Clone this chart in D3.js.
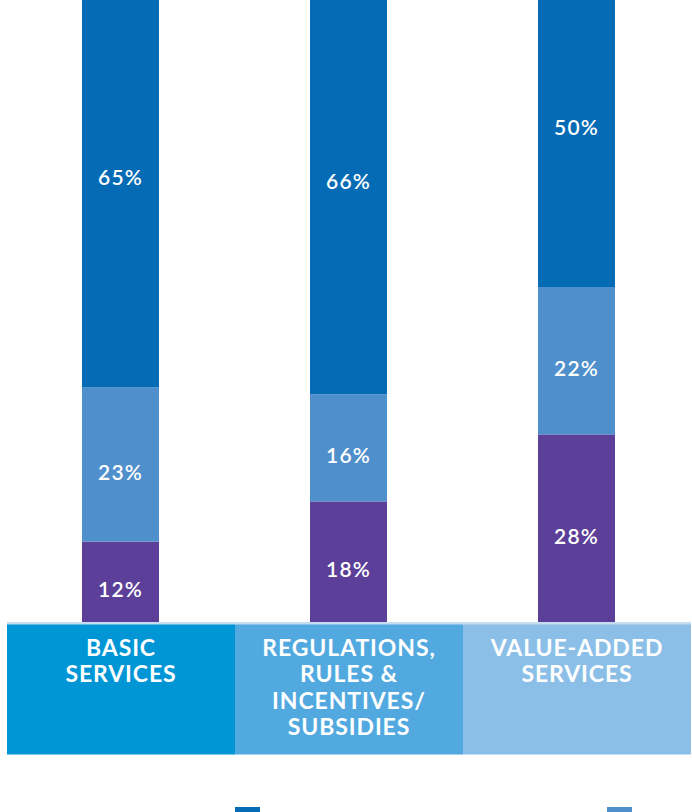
<!DOCTYPE html>
<html>
<head>
<meta charset="utf-8">
<script src="https://cdn.jsdelivr.net/npm/d3@7"></script>
<style>
  html, body { margin: 0; padding: 0; background: #fff; }
  svg { display: block; }
</style>
</head>
<body>
<svg id="chart" width="692" height="812"></svg>
<script>
"use strict"

// categories (each label split into lines)
var categories = ["basic", "regulations", "valueAdded"];
var categoryLines = [
    ["BASIC", "SERVICES"],
    ["REGULATIONS,", "RULES &", "INCENTIVES/", "SUBSIDIES"],
    ["VALUE-ADDED", "SERVICES"]
];

// series, stacked bottom -> top
var seriesNames = ["Series C", "Series B", "Series A"];
var seriesC = [12, 18, 28];   // purple, bottom
var seriesB = [23, 16, 22];   // mid blue
var seriesA = [65, 66, 50];   // dark blue, top

var seriesColors = ["#5b3f98", "#4f8fcb", "#056bb5"];
var bandColors = ["#0096d6", "#51a9df", "#8cbfe8"];

// legend order as drawn (dark blue first)
var legendOrder = [2, 1, 0];

var svg = d3.select("#chart");

var x = d3.scaleBand().domain(categories).range([7, 691]).padding(0);
var y = d3.scaleLinear().domain([0, 100]).range([622, -48]);

var BAR_W = 77;

var rows = categories.map(function(c, i){
    return {cat: c, C: seriesC[i], B: seriesB[i], A: seriesA[i]};
});
var stack = d3.stack().keys(["C", "B", "A"])(rows);

//bars
var layer = svg.selectAll("g.layer").data(stack).enter().append("g")
    .attr("class", "layer")
    .attr("fill", function(d, i){ return seriesColors[i]; });

layer.selectAll("rect").data(function(d){ return d; }).enter().append("rect")
    .attr("x", function(d){ return x(d.data.cat) + (x.bandwidth() - BAR_W) / 2 - 0.5; })
    .attr("width", BAR_W)
    .attr("y", function(d){ return y(d[1]); })
    .attr("height", function(d){ return y(d[0]) - y(d[1]); });

//value labels
layer.selectAll("text").data(function(d){ return d; }).enter().append("text")
    .attr("x", function(d){ return x(d.data.cat) + x.bandwidth() / 2 - 0.5; })
    .attr("y", function(d){ return (y(d[0]) + y(d[1])) / 2 + 7; })
    .attr("text-anchor", "middle")
    .attr("dominant-baseline", "central")
    .attr("fill", "#fff")
    .style("font-family", "Lato, sans-serif")
    .style("font-weight", "600")
    .style("font-size", "21px")
    .style("letter-spacing", "1.2px")
    .text(function(d){ return (d[1] - d[0]) + "%"; });

//category band
svg.append("rect")
    .attr("x", x.range()[0]).attr("y", y(0))
    .attr("width", x.range()[1] - x.range()[0]).attr("height", 3)
    .attr("fill", "#c6ddf1");

var band = svg.selectAll("g.cat").data(categories).enter().append("g").attr("class", "cat");

band.append("rect")
    .attr("x", function(d){ return x(d); })
    .attr("y", y(0) + 2.5)
    .attr("width", x.bandwidth())
    .attr("height", 130)
    .attr("fill", function(d, i){ return bandColors[i]; });

band.append("text")
    .attr("text-anchor", "middle")
    .attr("fill", "#fff")
    .style("font-family", "Lato, sans-serif")
    .style("font-weight", "bold")
    .style("font-size", "23px")
    .style("letter-spacing", "0.9px")
    .selectAll("tspan").data(function(d, i){ return categoryLines[i]; }).enter().append("tspan")
    .attr("x", function(){ return x(d3.select(this.parentNode).datum()) + x.bandwidth() / 2; })
    .attr("y", function(d, i){ return 655.5 + i * 26.5; })
    .text(function(d){ return d; });

//legend swatches (text falls below the crop)
svg.selectAll("rect.legend").data(legendOrder).enter().append("rect")
    .attr("class", "legend")
    .attr("x", function(d, i){ return 235 + i * 372; })
    .attr("y", 807)
    .attr("width", 25)
    .attr("height", 25)
    .attr("fill", function(d){ return seriesColors[d]; });
</script>
</body>
</html>
